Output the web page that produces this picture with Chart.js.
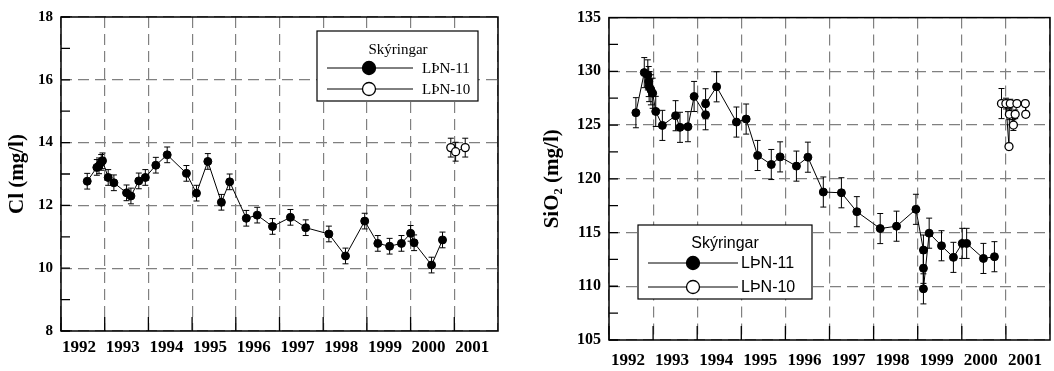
<!DOCTYPE html>
<html>
<head>
<meta charset="utf-8">
<script src="https://cdn.jsdelivr.net/npm/chart.js@4/dist/chart.umd.min.js"></script>
<style>
  html, body { margin: 0; padding: 0; background: #fff; overflow: hidden; }
  #wrap { position: relative; width: 1054px; height: 371px; overflow: hidden; }
  #clChart { position: absolute; left: 0; top: 0; }
  #siChart { position: absolute; left: 520px; top: 0; }
</style>
</head>
<body>
<div id="wrap">
  <canvas id="clChart" width="520" height="371"></canvas>
  <canvas id="siChart" width="540" height="371"></canvas>
</div>
<script>
// --- DATA ---
const seriesLabels = ["LÞN-11", "LÞN-10"];
const legendTitle = "Skýringar";
const yearTicks = [1992, 1993, 1994, 1995, 1996, 1997, 1998, 1999, 2000, 2001];

// Cl (mg/l)
const clYears11 = [1992.60, 1992.82, 1992.87, 1992.92, 1992.95, 1993.08, 1993.21, 1993.50, 1993.60, 1993.78,
  1993.93, 1994.17, 1994.43, 1994.87, 1995.10, 1995.36, 1995.67, 1995.86, 1996.24, 1996.49,
  1996.84, 1997.25, 1997.60, 1998.13, 1998.51, 1998.95, 1999.25, 1999.52, 1999.79, 2000.00,
  2000.08, 2000.48, 2000.73];
const clValues11 = [12.77, 13.21, 13.26, 13.37, 13.42, 12.89, 12.72, 12.40, 12.30, 12.78,
  12.89, 13.28, 13.61, 13.02, 12.39, 13.40, 12.10, 12.75, 11.59, 11.69,
  11.33, 11.62, 11.29, 11.09, 10.39, 11.50, 10.79, 10.70, 10.79, 11.11,
  10.81, 10.10, 10.90];
const clYears10 = [2000.92, 2001.03, 2001.25];
const clValues10 = [13.84, 13.71, 13.84];
const clErr11 = 0.25;
const clErr10 = 0.3;
const clTicks = [8, 10, 12, 14, 16, 18];

// SiO2 (mg/l)
const siYears11 = [1992.61, 1992.80, 1992.88, 1992.90, 1992.91, 1992.95, 1992.99, 1993.06, 1993.21, 1993.51,
  1993.61, 1993.79, 1993.93, 1994.19, 1994.19, 1994.44, 1994.89, 1995.11, 1995.37, 1995.68,
  1995.88, 1996.25, 1996.51, 1996.86, 1997.27, 1997.62, 1998.15, 1998.52, 1998.96, 1999.13,
  1999.13, 1999.13, 1999.26, 1999.54, 1999.81, 2000.01, 2000.11, 2000.49, 2000.74];
const siValues11 = [126.15, 129.88, 129.67, 129.05, 128.58, 128.28, 127.96, 126.27, 124.97, 125.87,
  124.79, 124.85, 127.66, 125.96, 126.98, 128.56, 125.28, 125.56, 122.17, 121.33,
  122.04, 121.18, 122.01, 118.77, 118.70, 116.94, 115.37, 115.59, 117.16, 113.37,
  111.67, 109.76, 114.94, 113.77, 112.69, 113.99, 113.99, 112.59, 112.75];
const siYears10 = [2000.90, 2001.00, 2001.07, 2001.08, 2001.10, 2001.17, 2001.21, 2001.25, 2001.44, 2001.45];
const siValues10 = [127.0, 127.0, 123.0, 126.0, 127.0, 125.0, 126.0, 127.0, 127.0, 126.0];
const siErr11 = 1.4;
const siErr10 = [1.4, 0.5, 0.3, 0.5, 0.4, 0.5, 0.4, 0.3, 0.3, 0.3];
const siTicks = [105, 110, 115, 120, 125, 130, 135];

const SERIF = '"Liberation Serif", "Times New Roman", serif';
const SANS = '"Liberation Sans", Arial, sans-serif';

const toPoints = (xs, ys) => xs.map((x, i) => ({ x: x, y: ys[i] }));

// error bars behind the markers
const errorBars = {
  id: 'errorBars',
  beforeDatasetsDraw(chart) {
    const { ctx, scales: { y } } = chart;
    ctx.save();
    ctx.strokeStyle = '#000';
    ctx.lineWidth = 1;
    chart.data.datasets.forEach((ds, di) => {
      const meta = chart.getDatasetMeta(di);
      meta.data.forEach((pt, i) => {
        const e = Array.isArray(ds.errors) ? ds.errors[i] : ds.errors;
        const v = ds.data[i].y;
        const top = y.getPixelForValue(v + e);
        const bot = y.getPixelForValue(v - e);
        ctx.beginPath();
        ctx.moveTo(pt.x, top); ctx.lineTo(pt.x, bot);
        ctx.moveTo(pt.x - 3, top); ctx.lineTo(pt.x + 3, top);
        ctx.moveTo(pt.x - 3, bot); ctx.lineTo(pt.x + 3, bot);
        ctx.stroke();
      });
    });
    ctx.restore();
  }
};

// frame box + inward ticks
const frame = {
  id: 'frame',
  afterDatasetsDraw(chart, args, opts) {
    const { ctx, chartArea: a, scales: { x, y } } = chart;
    ctx.save();
    ctx.strokeStyle = '#000';
    ctx.lineWidth = 1.3;
    ctx.beginPath();
    yearTicks.forEach(t => {
      const px = x.getPixelForValue(t);
      ctx.moveTo(px, a.bottom); ctx.lineTo(px, a.bottom - 14);
    });
    for (let v = y.min; v <= y.max; v += opts.minorStep) {
      const py = y.getPixelForValue(v);
      ctx.moveTo(a.left, py); ctx.lineTo(a.left + 9, py);
    }
    ctx.stroke();
    ctx.lineWidth = 1.5;
    ctx.strokeRect(a.left, a.top, a.right - a.left, a.bottom - a.top);
    ctx.restore();
  }
};

// boxed legend: title, then line-marker-line rows
const boxLegend = {
  id: 'boxLegend',
  afterDraw(chart, args, o) {
    const { ctx } = chart;
    ctx.save();
    ctx.fillStyle = '#fff';
    ctx.fillRect(o.x, o.y, o.w, o.h);
    ctx.strokeStyle = '#000';
    ctx.lineWidth = 1.2;
    ctx.strokeRect(o.x, o.y, o.w, o.h);
    ctx.fillStyle = '#000';
    ctx.font = o.font;
    ctx.textAlign = 'center';
    ctx.textBaseline = 'middle';
    ctx.fillText(legendTitle, o.titleX, o.titleY);
    ctx.textAlign = 'left';
    chart.data.datasets.forEach((ds, i) => {
      const ry = o.rowY[i];
      ctx.strokeStyle = '#000';
      ctx.lineWidth = 1;
      ctx.beginPath();
      ctx.moveTo(o.lineX0, ry); ctx.lineTo(o.lineX1, ry);
      ctx.stroke();
      ctx.beginPath();
      ctx.arc(o.markX, ry, o.r, 0, Math.PI * 2);
      ctx.fillStyle = ds.pointBackgroundColor;
      ctx.fill();
      ctx.lineWidth = 1.3;
      ctx.stroke();
      ctx.fillStyle = '#000';
      ctx.fillText(ds.label, o.textX, ry + 1);
    });
    ctx.restore();
  }
};

function makeDatasets(p11, p10, e11, e10) {
  return [
    {
      label: seriesLabels[0], data: p11, errors: e11, showLine: true,
      borderColor: '#000', borderWidth: 1, pointRadius: 4, pointBorderWidth: 1,
      pointBackgroundColor: '#000', pointBorderColor: '#000'
    },
    {
      label: seriesLabels[1], data: p10, errors: e10, showLine: true,
      borderColor: '#000', borderWidth: 1, pointRadius: 4, pointBorderWidth: 1.3,
      pointBackgroundColor: '#fff', pointBorderColor: '#000'
    }
  ];
}

function makeChart(el, cfg) {
  return new Chart(el, {
    type: 'scatter',
    data: { datasets: cfg.datasets },
    plugins: [errorBars, frame, boxLegend],
    options: {
      responsive: false,
      animation: false,
      layout: { padding: { top: 16, left: 0, right: cfg.padRight, bottom: 0 } },
      plugins: {
        legend: { display: false },
        tooltip: { enabled: false },
        frame: { minorStep: cfg.minorStep },
        boxLegend: cfg.legend
      },
      scales: {
        x: {
          type: 'linear', min: 1992, max: 2002,
          afterFit: s => { s.height = cfg.xHeight; },
          afterBuildTicks: s => { s.ticks = yearTicks.concat([2002]).map(v => ({ value: v })); },
          grid: { color: '#808080', lineWidth: 1.2, drawTicks: false },
          border: { display: false, dash: [11, 6] },
          ticks: {
            autoSkip: false, maxRotation: 0, padding: cfg.xPad, labelOffset: cfg.labelOffset,
            color: '#000', font: { family: SERIF, size: 17, weight: 'bold' },
            callback: v => (yearTicks.includes(v) ? String(v) : '')
          }
        },
        y: {
          min: cfg.yTicks[0], max: cfg.yTicks[cfg.yTicks.length - 1],
          afterFit: s => { s.width = cfg.yWidth; },
          afterBuildTicks: s => { s.ticks = cfg.yTicks.map(v => ({ value: v })); },
          grid: { color: '#808080', lineWidth: 1.2, drawTicks: false },
          border: { display: false, dash: [11, 6] },
          title: {
            display: true, text: cfg.yTitle, color: '#000',
            font: { family: SERIF, size: 21, weight: 'bold' },
            padding: { top: cfg.titlePad, bottom: 0 }
          },
          ticks: {
            padding: 8, color: '#000',
            font: { family: SERIF, size: cfg.yFont, weight: 'bold' },
            callback: v => String(v)
          }
        }
      }
    }
  });
}

makeChart(document.getElementById('clChart'), {
  datasets: makeDatasets(toPoints(clYears11, clValues11), toPoints(clYears10, clValues10), clErr11, clErr10),
  yTicks: clTicks, minorStep: 1, yTitle: 'Cl (mg/l)', yFont: 15,
  yWidth: 61, padRight: 22, xHeight: 40, xPad: 6, labelOffset: 18, titlePad: 5,
  legend: {
    x: 317, y: 31, w: 161, h: 70, font: '15px ' + SERIF,
    titleX: 398, titleY: 50, rowY: [68, 89], lineX0: 327, lineX1: 413, markX: 369, r: 6.5, textX: 422
  }
});

makeChart(document.getElementById('siChart'), {
  datasets: makeDatasets(toPoints(siYears11, siValues11), toPoints(siYears10, siValues10), siErr11, siErr10),
  yTicks: siTicks, minorStep: 2.5, yTitle: 'SiO₂ (mg/l)', yFont: 16,
  yWidth: 89, padRight: 3, xHeight: 31, xPad: 10, labelOffset: 19, titlePad: 20,
  legend: {
    x: 118, y: 225, w: 174, h: 74, font: '16px ' + SANS,
    titleX: 205, titleY: 244, rowY: [263, 287], lineX0: 128, lineX1: 218, markX: 173, r: 6.5, textX: 221
  }
});
</script>
</body>
</html>
